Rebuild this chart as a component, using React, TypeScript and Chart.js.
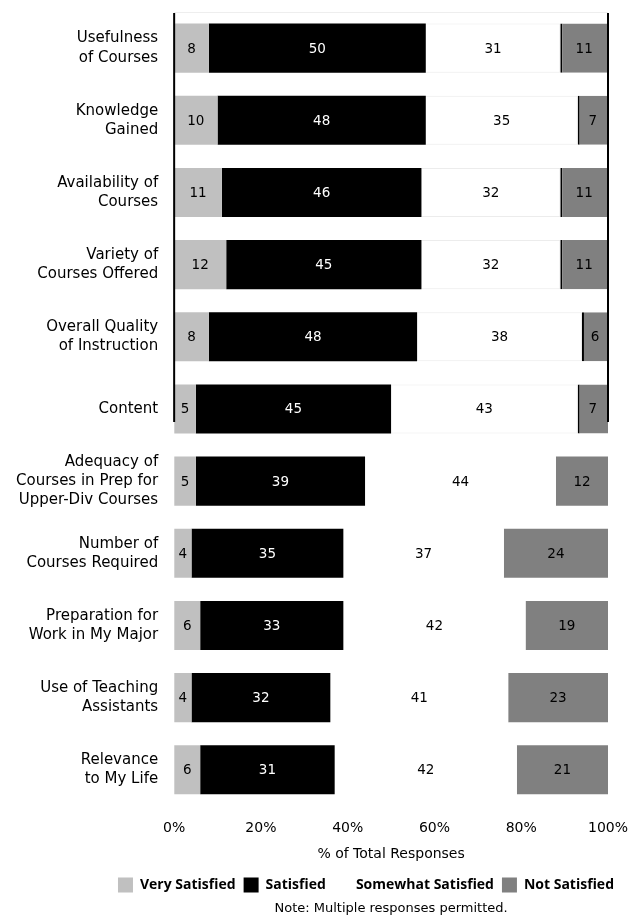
import React, { useEffect, useRef } from "react";
import { Chart, registerables } from "chart.js";

Chart.register(...registerables);

const categories: string[][] = [
  ["Usefulness", "of Courses"],
  ["Knowledge", "Gained"],
  ["Availability of", "Courses"],
  ["Variety of", "Courses Offered"],
  ["Overall Quality", "of Instruction"],
  ["Content"],
  ["Adequacy of", "Courses in Prep for", "Upper-Div Courses"],
  ["Number of", "Courses Required"],
  ["Preparation for", "Work in My Major"],
  ["Use of Teaching", "Assistants"],
  ["Relevance", "to My Life"],
];

const verySatisfied = [8, 10, 11, 12, 8, 5, 5, 4, 6, 4, 6];
const satisfied = [50, 48, 46, 45, 48, 45, 39, 35, 33, 32, 31];
const somewhatSatisfied = [31, 35, 32, 32, 38, 43, 44, 37, 42, 41, 42];
const notSatisfied = [11, 7, 11, 11, 6, 7, 12, 24, 19, 23, 21];

const xTicks = [0, 20, 40, 60, 80, 100];
const noteText = "Note: Multiple responses permitted.";
const FONT = "'DejaVu Sans', 'Open Sans', sans-serif";
const LEGEND_FONT = "'Open Sans', 'Noto Sans', sans-serif";
const FRAMED_ROWS = 6;

const valueLabels = {
  id: "valueLabels",
  afterDatasetsDraw(chart: any) {
    const ctx = chart.ctx;
    ctx.save();
    ctx.font = `13.5px ${FONT}`;
    ctx.textAlign = "center";
    ctx.textBaseline = "middle";
    chart.data.datasets.forEach((ds: any, di: number) => {
      const meta = chart.getDatasetMeta(di);
      meta.data.forEach((el: any, i: number) => {
        const p = el.getCenterPoint();
        ctx.fillStyle = di === 1 ? "#ffffff" : "#000000";
        ctx.fillText(String(ds.data[i]), p.x, p.y + 1);
      });
    });
    ctx.restore();
  },
};

const frameLines = {
  id: "frameLines",
  afterDatasetsDraw(chart: any) {
    const { ctx, chartArea, scales } = chart;
    const y = scales.y;
    const step = y.getPixelForValue(1) - y.getPixelForValue(0);
    const yEnd = y.getPixelForValue(FRAMED_ROWS - 1) + step * 0.18;
    ctx.save();
    ctx.strokeStyle = "#000";
    ctx.lineWidth = 2;
    const x0 = scales.x.getPixelForValue(0);
    const x1 = scales.x.getPixelForValue(100);
    ctx.beginPath();
    ctx.moveTo(x0, chartArea.top + 1);
    ctx.lineTo(x0, yEnd);
    ctx.moveTo(x1, chartArea.top + 1);
    ctx.lineTo(x1, yEnd);
    ctx.stroke();
    ctx.strokeStyle = "#eeeeee";
    ctx.lineWidth = 1;
    ctx.beginPath();
    ctx.moveTo(x0, chartArea.top + 0.5);
    ctx.lineTo(x1, chartArea.top + 0.5);
    ctx.stroke();
    ctx.restore();
  },
};

const notePlugin = {
  id: "notePlugin",
  afterDraw(chart: any) {
    const { ctx, chartArea } = chart;
    const lg = chart.legend;
    ctx.save();
    ctx.font = `13px ${FONT}`;
    ctx.fillStyle = "#000";
    ctx.textAlign = "center";
    ctx.textBaseline = "middle";
    ctx.fillText(noteText, (chartArea.left + chartArea.right) / 2, lg.bottom + 6.5);
    ctx.restore();
  },
};

export default function App() {
  const ref = useRef<HTMLCanvasElement | null>(null);

  useEffect(() => {
    if (!ref.current) return;
    const chart = new Chart(ref.current, {
      type: "bar",
      data: {
        labels: categories as any,
        datasets: [
          {
            label: "Very Satisfied",
            data: verySatisfied,
            backgroundColor: "#c0c0c0",
            borderWidth: 0,
          },
          {
            label: "Satisfied",
            data: satisfied,
            backgroundColor: "#000000",
            borderWidth: 0,
          },
          {
            label: "Somewhat Satisfied",
            data: somewhatSatisfied,
            backgroundColor: "#ffffff",
            borderColor: "#ececec",
            borderWidth: (c: any) => (c.dataIndex < FRAMED_ROWS ? 1 : 0),
          },
          {
            label: "Not Satisfied",
            data: notSatisfied,
            backgroundColor: "#808080",
            borderColor: "#000000",
            borderSkipped: false,
            borderWidth: (c: any) =>
              c.dataIndex < FRAMED_ROWS ? { left: 2, right: 0, top: 0, bottom: 0 } : 0,
          },
        ],
      },
      options: {
        indexAxis: "y",
        responsive: false,
        animation: false,
        maintainAspectRatio: false,
        datasets: { bar: { barPercentage: 0.68, categoryPercentage: 1 } },
        layout: { padding: { top: 12, right: 7, left: 0, bottom: 15.5 } },
        scales: {
          x: {
            stacked: true,
            min: 0,
            max: 100,
            afterBuildTicks: (axis: any) => {
              axis.ticks = xTicks.map((v) => ({ value: v }));
            },
            afterFit: (s: any) => {
              s.paddingLeft = 0;
              s.paddingRight = 21;
            },
            ticks: {
              callback: (v: any) => v + "%",
              color: "#000",
              font: { family: FONT, size: 14 },
              padding: 14.5,
              maxRotation: 0,
            },
            grid: { display: false, drawTicks: false },
            border: { display: false },
            title: {
              display: true,
              text: "% of Total Responses",
              color: "#000",
              font: { family: FONT, size: 14 },
              padding: { top: -6, bottom: 7 },
            },
          },
          y: {
            stacked: true,
            afterFit: (s: any) => {
              s.paddingTop = 0;
              s.paddingBottom = 0;
            },
            ticks: {
              color: "#000",
              font: { family: FONT, size: 15, lineHeight: 1.27 },
              padding: 16,
              autoSkip: false,
            },
            grid: { display: false, drawTicks: false },
            border: { display: false },
          },
        },
        plugins: {
          legend: {
            position: "bottom",
            align: "end",
            labels: {
              color: "#000",
              boxWidth: 15,
              boxHeight: 15,
              padding: 8,
              font: { family: LEGEND_FONT, size: 14, weight: "bold" },
              generateLabels: (c: any) =>
                Chart.defaults.plugins.legend.labels
                  .generateLabels(c)
                  .map((l: any) => ({ ...l, lineWidth: 0, strokeStyle: "rgba(0,0,0,0)" })),
            },
          },
          title: { display: false },
          tooltip: { enabled: false },
        },
      },
      plugins: [valueLabels, frameLines, notePlugin],
    } as any);
    return () => chart.destroy();
  }, []);

  return (
    <div style={{ position: "fixed", left: 0, top: 0, width: 629, height: 918, background: "#fff" }}>
      <canvas ref={ref} width={629} height={918} style={{ display: "block" }} />
    </div>
  );
}
